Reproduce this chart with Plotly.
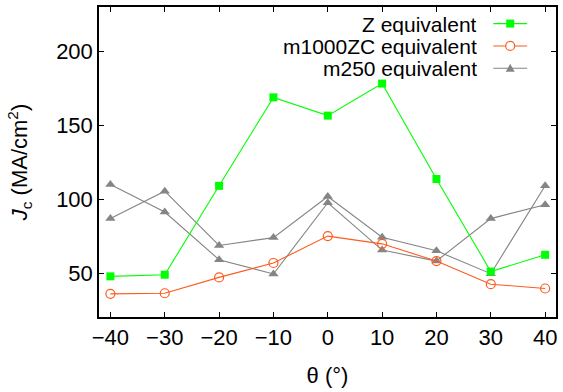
import plotly.graph_objects as go

theta = [-40, -30, -20, -10, 0, 10, 20, 30, 40]
z_equiv = [48.2, 49.3, 109.2, 168.8, 156.5, 178.1, 113.8, 51.4, 62.7]
m1000zc_equiv = [36.4, 36.8, 47.5, 57.2, 75.3, 70.1, 58.5, 42.9, 40.0]
m250_equiv_a = [87.1, 105.6, 69.0, 74.3, 102.0, 74.6, 65.4, 50.0, 109.2]
m250_equiv_b = [110.1, 91.5, 59.4, 49.8, 97.8, 65.9, 58.5, 87.1, 96.5]

series_names = ["Z equivalent", "m1000ZC equivalent", "m250 equivalent"]
xticks = [-40, -30, -20, -10, 0, 10, 20, 30, 40]
yticks = [50, 100, 150, 200]

GREEN = "#00ff00"
ORANGE = "#ff5a1e"
GRAY = "#858585"
FONT = "Liberation Sans, Arial, sans-serif"
FS = 22

fig = go.Figure()

# m250: two passes drawn as one trace separated by a gap
m250_x = theta + [None] + theta
m250_y = m250_equiv_a + [None] + m250_equiv_b
fig.add_trace(go.Scatter(x=m250_x, y=m250_y, mode="lines+markers",
                         line=dict(color=GRAY, width=1.1), connectgaps=False,
                         marker=dict(symbol="triangle-up", size=9, color=GRAY),
                         name=series_names[2], showlegend=False))
fig.add_trace(go.Scatter(x=theta, y=m1000zc_equiv, mode="lines+markers",
                         line=dict(color=ORANGE, width=1.1),
                         marker=dict(symbol="circle-open", size=9, color=ORANGE,
                                     line=dict(width=1.2, color=ORANGE)),
                         name=series_names[1], showlegend=False))
fig.add_trace(go.Scatter(x=theta, y=z_equiv, mode="lines+markers",
                         line=dict(color=GREEN, width=1.1),
                         marker=dict(symbol="square", size=8, color=GREEN),
                         name=series_names[0], showlegend=False))

# custom gnuplot-style legend (text right, sample on right)
L, R, T, B = 99, 558, 5, 317
W, H = R - L, B - T
def px(x):
    return (x - L) / W
def py(y):
    return (B - y) / H

rows_y = [21.7, 44.2, 66.7]
colors = [GREEN, ORANGE, GRAY]
shapes = []
annotations = []
for i, (nm, c, yy) in enumerate(zip(series_names, colors, rows_y)):
    annotations.append(dict(x=px(480), y=py(yy), xref="paper", yref="paper",
                            text=nm, showarrow=False, xanchor="right", yanchor="middle",
                            height=22, borderpad=0,
                            font=dict(family=FONT, size=21, color="black")))
    shapes.append(dict(type="line", xref="paper", yref="paper",
                       x0=px(495), x1=px(529), y0=py(yy), y1=py(yy),
                       line=dict(color=c, width=1.1)))
    common = dict(xref="paper", yref="paper", xsizemode="pixel", ysizemode="pixel",
                  xanchor=px(512), yanchor=py(yy))
    if i == 0:
        shapes.append(dict(type="rect", x0=-4, x1=4, y0=-4, y1=4,
                           fillcolor=c, line=dict(width=0), **common))
    elif i == 1:
        shapes.append(dict(type="circle", x0=-4.5, x1=4.5, y0=-4.5, y1=4.5,
                           fillcolor="white", line=dict(color=c, width=1.2), **common))
    else:
        shapes.append(dict(type="path", path="M -4.5,-3.5 L 4.5,-3.5 L 0,4.5 Z",
                           fillcolor=c, line=dict(width=0), **common))

axis_common = dict(showgrid=False, zeroline=False, showline=True, linecolor="black",
                   linewidth=1.5, mirror="ticks", ticks="inside", ticklen=5,
                   tickwidth=1, tickcolor="black",
                   tickfont=dict(family=FONT, size=FS, color="black"))

fig.update_layout(
    width=563, height=392,
    margin=dict(l=L, r=563 - R, t=T, b=392 - B),
    paper_bgcolor="white", plot_bgcolor="white",
    shapes=shapes, annotations=annotations,
    xaxis=dict(range=[-42.1, 42.0], tickvals=xticks,
               title=dict(text="θ (°)", font=dict(family=FONT, size=FS, color="black"),
                          standoff=18),
               **axis_common),
    yaxis=dict(range=[20.8, 229.7], tickvals=yticks,
               title=dict(text="<i>J</i><sub>c</sub> (MA/cm<sup>2</sup>)",
                          font=dict(family=FONT, size=FS, color="black"), standoff=22),
               **axis_common),
    showlegend=False,
)

fig.write_html("out.html")
